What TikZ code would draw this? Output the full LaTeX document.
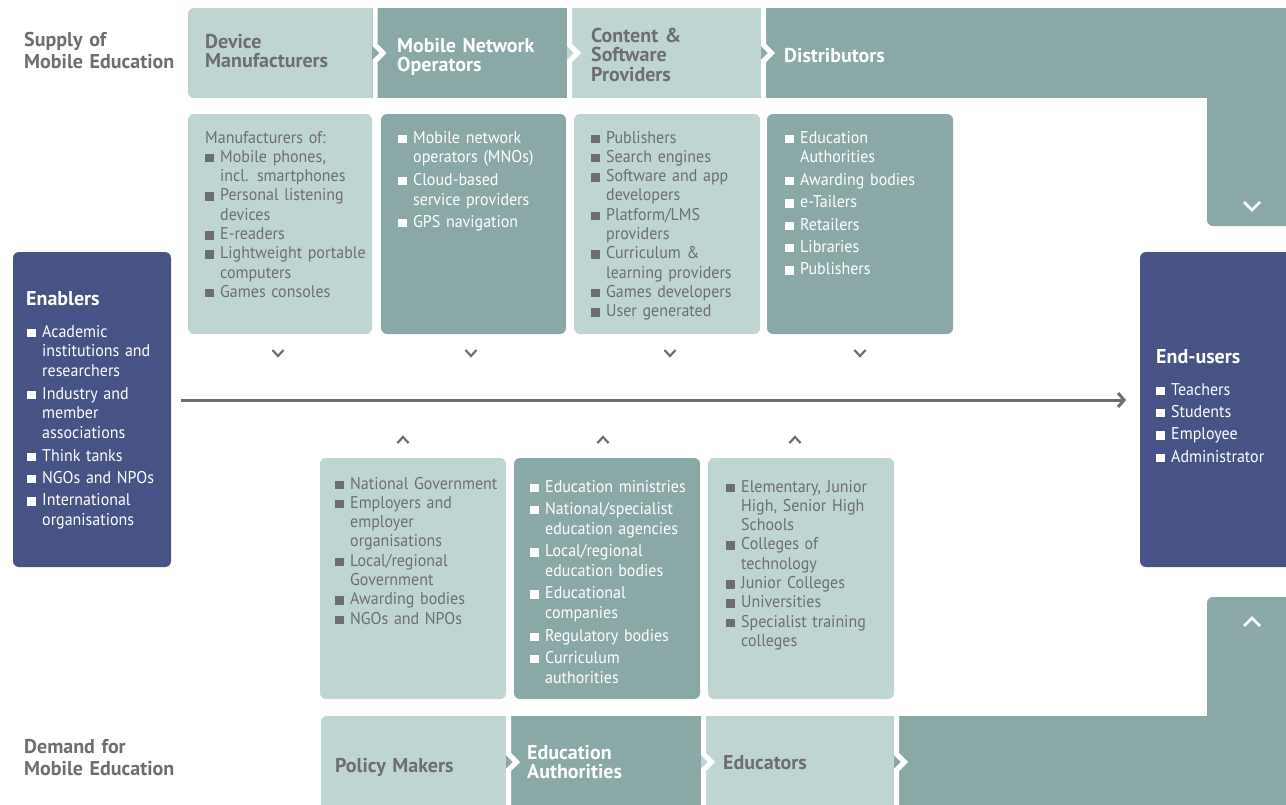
\documentclass[tikz,border=0pt]{standalone}
\usepackage{fontspec}
\setmainfont{PT Sans}[FakeStretch=0.94]
\newfontfamily\hdfont{PT Sans}[FakeStretch=1.0]
\usetikzlibrary{arrows.meta}
\definecolor{lt}{HTML}{BFD5D2}
\definecolor{dk}{HTML}{8AA8A6}
\definecolor{nv}{HTML}{475384}
\definecolor{gt}{HTML}{6D6E71}
\newcommand\bix[1]{\hangindent=15pt\hangafter=1\noindent\makebox[15pt][l]{\rule{8.5pt}{8.5pt}}#1}
\newcommand\bi[1]{\par\bix{#1}}
\newcommand\dkp{\setlength{\parskip}{2.6pt}}
\begin{document}
\begin{tikzpicture}[x=1pt,y=-1pt,
  hd/.style={anchor=base west, inner sep=0, text width=220pt, align=left,
     font=\hdfont\bfseries\fontsize{20}{19.5}\selectfont},
  sd/.style={anchor=base west, inner sep=0, text width=220pt, align=left,
     font=\hdfont\bfseries\fontsize{20}{22}\selectfont},
  lstl/.style={anchor=base west, inner sep=0, text width=200pt, align=left, text=gt,
     font=\fontsize{17}{19.3}\selectfont},
  lstd/.style={anchor=base west, inner sep=0, text width=200pt, align=left, text=white,
     font=\fontsize{17}{19.8}\selectfont},
  sepl/.style={white, line width=5pt},
  chev/.style={gt, line width=2.2pt},
  wchev/.style={white, line width=2.6pt},
  arr/.style={gt, line width=3pt, -{Straight Barb[length=6pt,width=14pt]}}]
\useasboundingbox (0,0) rectangle (1286,804);
\clip (0,0) rectangle (1286,804);
% ---- top row ----
\fill[lt, rounded corners=6pt] (188,8) rectangle (380,98);
\fill[dk] (372,8) rectangle (572,98);
\fill[lt] (567,8) rectangle (766,98);
\fill[dk] (761,8) rectangle (1300,98);
\fill[dk, rounded corners=6pt] (1207,8) rectangle (1300,226);
\draw[sepl] (375,0) -- (375,45) -- (383,53) -- (375,61) -- (375,104);
\draw[sepl] (569.5,0) -- (569.5,45) -- (577.5,53) -- (569.5,61) -- (569.5,104);
\draw[sepl] (763.5,0) -- (763.5,45) -- (771.5,53) -- (763.5,61) -- (763.5,104);
\draw[wchev] (1244,202) -- (1252,210) -- (1260,202);
% ---- bottom row ----
\fill[lt, rounded corners=6pt] (321,716) rectangle (515,815);
\fill[dk] (506,716) rectangle (706,815);
\fill[lt] (701,716) rectangle (899,815);
\fill[dk] (894,716) rectangle (1300,815);
\fill[dk, rounded corners=6pt] (1207,597) rectangle (1300,815);
\draw[sepl] (508.5,710) -- (508.5,754) -- (516.5,762) -- (508.5,770) -- (508.5,810);
\draw[sepl] (703.5,710) -- (703.5,754) -- (711.5,762) -- (703.5,770) -- (703.5,810);
\draw[sepl] (896.5,710) -- (896.5,754) -- (904.5,762) -- (896.5,770) -- (896.5,810);
\draw[wchev] (1244,626) -- (1252,618) -- (1260,626);
% ---- content boxes ----
\fill[lt, rounded corners=6pt] (188,114) rectangle (372,334);
\fill[dk, rounded corners=6pt] (381,114) rectangle (566,334);
\fill[lt, rounded corners=6pt] (574,114) rectangle (760,334);
\fill[dk, rounded corners=6pt] (767,114) rectangle (953,334);
\fill[lt, rounded corners=6pt] (320,458) rectangle (506,699);
\fill[dk, rounded corners=6pt] (514,458) rectangle (700,699);
\fill[lt, rounded corners=6pt] (708,458) rectangle (894,699);
\fill[nv, rounded corners=6pt] (13,252) rectangle (171,567);
\fill[nv, rounded corners=6pt] (1140,252) rectangle (1300,567);
% ---- chevrons ----
\foreach \cx in {278,471,670,860} \draw[chev] (\cx-5.5,350) -- (\cx,356) -- (\cx+5.5,350);
\foreach \cx in {403,603,795} \draw[chev] (\cx-5.5,443) -- (\cx,437) -- (\cx+5.5,443);
% ---- main arrow ----
\coordinate (a0) at (181,400);
\coordinate (a1) at (1126,400);
\draw[arr] (a0) -- (a1);
% ---- side labels ----
\node[sd, text=gt] (sup) at (24,46) {Supply of\\Mobile Education};
\node[sd, text=gt] (dem) at (24,753) {Demand for\\Mobile Education};
% ---- headers ----
\node[hd, text=gt] (hdev) at (205,48) {Device\\Manufacturers};
\node[hd, text=white] (hmno) at (397,52) {Mobile Network\\Operators};
\node[hd, text=gt] (hcon) at (591,42) {Content \&\\Software\\Providers};
\node[hd, text=white] (hdis) at (784,62) {Distributors};
\node[hd, text=gt] (hpol) at (335,772) {Policy Makers};
\node[hd, text=white] (hedu) at (527,759) {Education\\Authorities};
\node[hd, text=gt] (hedc) at (723,769) {Educators};
\node[hd, text=white] (hena) at (26,305) {Enablers};
\node[hd, text=white] (hend) at (1156,363) {End-users};
% ---- lists ----
\node[lstl] (l1) at (205,143) {\noindent Manufacturers of:\bi{Mobile phones,\newline incl. smartphones}\bi{Personal listening\newline devices}\bi{E-readers}\bi{Lightweight portable\newline computers}\bi{Games consoles}\par};
\node[lstd] (l2) at (398,143) {\dkp\bix{Mobile network\newline operators (MNOs)}\bi{Cloud-based\newline service providers}\bi{GPS navigation}\par};
\node[lstl] (l3) at (591,143) {\bix{Publishers}\bi{Search engines}\bi{Software and app\newline developers}\bi{Platform/LMS\newline providers}\bi{Curriculum \&\newline learning providers}\bi{Games developers}\bi{User generated}\par};
\node[lstd] (l4) at (785,143) {\dkp\bix{Education\newline Authorities}\bi{Awarding bodies}\bi{e-Tailers}\bi{Retailers}\bi{Libraries}\bi{Publishers}\par};
\node[lstd] (l5) at (27,337) {\dkp\bix{Academic\newline institutions and\newline researchers}\bi{Industry and\newline member\newline associations}\bi{Think tanks}\bi{NGOs and NPOs}\bi{International\newline organisations}\par};
\node[lstd] (l6) at (1156,395) {\dkp\bix{Teachers}\bi{Students}\bi{Employee}\bi{Administrator}\par};
\node[lstl] (l7) at (335,489) {\bix{National Government}\bi{Employers and\newline employer\newline organisations}\bi{Local/regional\newline Government}\bi{Awarding bodies}\bi{NGOs and NPOs}\par};
\node[lstd] (l8) at (530,492) {\dkp\bix{Education ministries}\bi{National/specialist\newline education agencies}\bi{Local/regional\newline education bodies}\bi{Educational\newline companies}\bi{Regulatory bodies}\bi{Curriculum\newline authorities}\par};
\node[lstl] (l9) at (726,492) {\bix{Elementary, Junior\newline High, Senior High\newline Schools}\bi{Colleges of\newline technology}\bi{Junior Colleges}\bi{Universities}\bi{Specialist training\newline colleges}\par};
\end{tikzpicture}
\end{document}
